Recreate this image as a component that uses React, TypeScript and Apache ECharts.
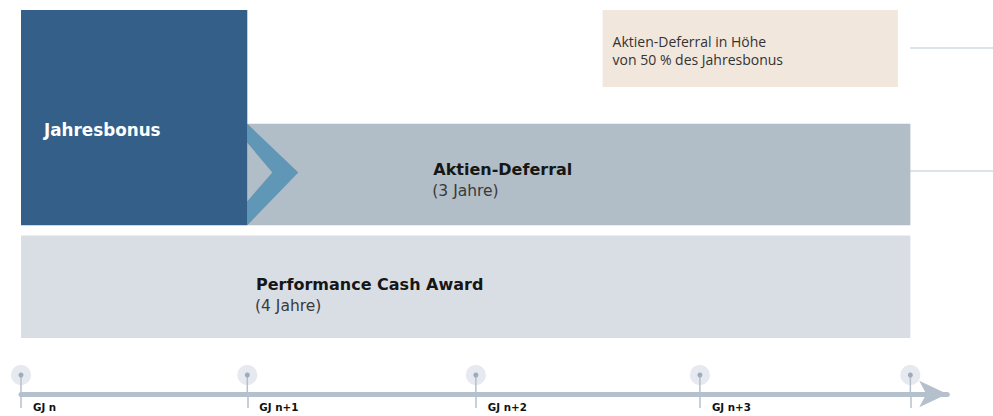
import React, { useEffect, useRef } from "react";
import * as echarts from "echarts";

// Timeline milestones (x in fiscal-year units)
const milestoneLabels = ["GJ n", "GJ n+1", "GJ n+2", "GJ n+3", ""];
const milestoneValues = [0, 1, 2.01, 3, 3.93];

// Compensation components
const barNames = ["Performance Cash Award", "Aktien-Deferral", "Jahresbonus"];
const barSubtitles = ["(4 Jahre)", "(3 Jahre)", ""];
const barStart = [0, 1, 0];
const barEnd = [3.93, 3.93, 1];
const barBottom = [0, 1.1, 1.1];
const barTop = [1, 2.09, 3.2];

// Annotation note
const noteLines = ["Aktien-Deferral in Höhe", "von 50 % des Jahresbonus"];
const noteX = [2.57, 3.875];
const noteY = [2.45, 3.2];

// styles
const barColors = ["#d9dee5", "#b1bdc7", "#335f89"];
const titleColors = ["#161616", "#161616", "#ffffff"];
const titleSizes = [16, 16, 16.8];
const labelDx = [235, 186, 23];
const labelDy = [49, 46, 120];
const AXIS_COLOR = "#b4c0cb";
const X_MAX = 4.093;
const UNIT_PX = 226.3;

export default function App() {
  const ref = useRef<HTMLDivElement>(null);

  useEffect(() => {
    if (!ref.current) return;
    const chart = echarts.init(ref.current, undefined, { renderer: "svg" });

    const barData = barNames.map((n, i) => ({
      name: n,
      value: [barStart[i], barEnd[i], barBottom[i], barTop[i]],
    }));

    const option: any = {
      animation: false,
      backgroundColor: "#ffffff",
      grid: [
        { left: 21, width: X_MAX * UNIT_PX, top: 10, height: 328 },
        { left: 21, width: X_MAX * UNIT_PX, top: 375, height: 19 },
      ],
      xAxis: [
        {
          type: "value",
          gridIndex: 0,
          min: 0,
          max: X_MAX,
          show: false,
        },
        {
          type: "value",
          gridIndex: 1,
          min: 0,
          max: X_MAX,
          splitLine: { show: false },
          axisLine: {
            show: true,
            lineStyle: { color: AXIS_COLOR, width: 5 },
            symbol: ["none", "arrow"],
            symbolSize: [20, 28],
          },
          axisTick: {
            show: true,
            customValues: milestoneValues,
            length: 14,
            lineStyle: { color: AXIS_COLOR, width: 1.5 },
          },
          axisLabel: {
            show: true,
            customValues: milestoneValues,
            formatter: (v: number) => {
              const i = milestoneValues.findIndex((m) => Math.abs(m - v) < 1e-6);
              return i >= 0 ? milestoneLabels[i] : "";
            },
            align: "left",
            padding: [0, 0, 0, 12],
            margin: 8,
            color: "#111111",
            fontFamily: "DejaVu Sans",
            fontWeight: "bold",
            fontSize: 10.3,
            hideOverlap: false,
          },
        },
      ],
      yAxis: [
        { type: "value", gridIndex: 0, min: 0, max: 3.2, show: false },
        { type: "value", gridIndex: 1, min: 0, max: 1, show: false },
      ],
      graphic: [
        {
          type: "line",
          shape: { x1: 910, y1: 48, x2: 993, y2: 48 },
          style: { stroke: "#b9c8d7", lineWidth: 1 },
        },
        {
          type: "line",
          shape: { x1: 910, y1: 171, x2: 993, y2: 171 },
          style: { stroke: "#b9c8d7", lineWidth: 1 },
        },
      ],
      series: [
        {
          type: "custom",
          name: "components",
          xAxisIndex: 0,
          yAxisIndex: 0,
          clip: false,
          data: barData,
          renderItem: (params: any, api: any) => {
            const i = params.dataIndex;
            const p0 = api.coord([api.value(0), api.value(3)]);
            const p1 = api.coord([api.value(1), api.value(2)]);
            const x = p0[0];
            const y = p0[1];
            const w = p1[0] - p0[0];
            const h = p1[1] - p0[1];
            const children: any[] = [
              {
                type: "rect",
                shape: { x, y, width: w, height: h },
                style: { fill: barColors[i] },
              },
            ];
            if (i === 1) {
              const ty = y + h * 0.48;
              children.push({
                type: "polygon",
                shape: {
                  points: [
                    [x, y],
                    [x + 51, ty],
                    [x, y + h],
                    [x, y + h - 24],
                    [x + 25, ty],
                    [x, y + 19],
                  ],
                },
                style: { fill: "#6096b6" },
              });
            }
            children.push({
              type: "text",
              x: x + labelDx[i],
              y: y + labelDy[i],
              style: {
                text: barNames[i],
                fill: titleColors[i],
                font: `bold ${titleSizes[i]}px 'DejaVu Sans'`,
                verticalAlign: "middle",
                align: "left",
              },
            });
            if (barSubtitles[i]) {
              children.push({
                type: "text",
                x: x + labelDx[i] - 1,
                y: y + labelDy[i] + 21,
                style: {
                  text: barSubtitles[i],
                  fill: "#3a3a3a",
                  font: "15.5px 'DejaVu Sans'",
                  verticalAlign: "middle",
                  align: "left",
                },
              });
            }
            return { type: "group", children };
          },
        },
        {
          type: "custom",
          name: "note",
          xAxisIndex: 0,
          yAxisIndex: 0,
          clip: false,
          data: [[noteX[0], noteX[1], noteY[0], noteY[1]]],
          renderItem: (params: any, api: any) => {
            const p0 = api.coord([api.value(0), api.value(3)]);
            const p1 = api.coord([api.value(1), api.value(2)]);
            return {
              type: "group",
              children: [
                {
                  type: "rect",
                  shape: { x: p0[0], y: p0[1], width: p1[0] - p0[0], height: p1[1] - p0[1] },
                  style: { fill: "#f2e7dc" },
                },
                ...noteLines.map((t, k) => ({
                  type: "text",
                  x: p0[0] + 10,
                  y: p0[1] + 31 + k * 18,
                  style: {
                    text: t,
                    fill: "#333333",
                    font: "14px 'Open Sans'",
                    verticalAlign: "middle",
                    align: "left",
                  },
                })),
              ],
            };
          },
        },
        {
          type: "custom",
          name: "milestones",
          xAxisIndex: 1,
          yAxisIndex: 1,
          clip: false,
          data: milestoneValues.map((v) => [v, 1]),
          renderItem: (params: any, api: any) => {
            const c = api.coord([api.value(0), api.value(1)]);
            const b = api.coord([api.value(0), 0]);
            return {
              type: "group",
              children: [
                { type: "circle", shape: { cx: c[0], cy: c[1], r: 10 }, style: { fill: "#e6e9ef" } },
                {
                  type: "line",
                  shape: { x1: c[0], y1: c[1], x2: b[0], y2: b[1] },
                  style: { stroke: AXIS_COLOR, lineWidth: 1.5 },
                },
                { type: "circle", shape: { cx: c[0], cy: c[1], r: 2.5 }, style: { fill: "#9eacba" } },
              ],
            };
          },
        },
      ],
    };

    chart.setOption(option);
    return () => chart.dispose();
  }, []);

  return (
    <div
      ref={ref}
      style={{ position: "fixed", left: 0, top: 0, width: 993, height: 416 }}
    />
  );
}
